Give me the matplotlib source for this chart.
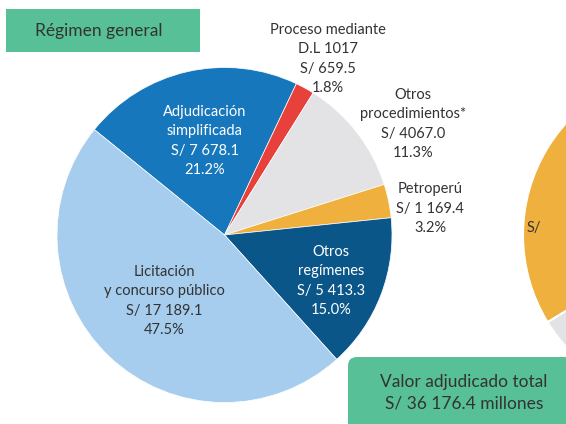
import numpy as np
import matplotlib
matplotlib.use("Agg")
from matplotlib import pyplot as plt
from matplotlib.patches import FancyBboxPatch, Rectangle

# Adjudicated value by procedure (S/ millions), clockwise from upper left
labels = ["Adjudicación\nsimplificada", "Proceso mediante\nD.L 1017", "Otros\nprocedimientos*",
          "Petroperú", "Otros\nregímenes", "Licitación\ny concurso público"]
amounts = [7678.1, 659.5, 4067.0, 1169.4, 5413.3, 17189.1]
amount_text = ["S/ 7 678.1", "S/ 659.5", "S/ 4067.0", "S/ 1 169.4", "S/ 5 413.3", "S/ 17 189.1"]
shares = [21.2, 1.8, 11.3, 3.2, 15.0, 47.5]
colors = ["#1777bc", "#e8403a", "#e3e3e5", "#efb03e", "#0a5689", "#a6cdee"]

# partially visible second pie at the right edge
right_values = [70.0, 30.0]
right_colors = ["#efb03e", "#e3e3e5"]

total_text = "Valor adjudicado total\nS/ 36 176.4 millones"

plt.rcParams['font.family'] = ['Lato', 'DejaVu Sans']

W, H = 566, 424
fig = plt.figure(figsize=(W / 100, H / 100), dpi=100)
ax = fig.add_axes([0, 0, 1, 1])
ax.set_xlim(0, W)
ax.set_ylim(0, H)
ax.set_aspect("equal")
ax.axis("off")

# second pie (mostly off the figure)
ax.pie(right_values, colors=right_colors, center=(690, H - 235), radius=167,
       startangle=211.5 - 360 * 0.70, counterclock=True,
       wedgeprops=dict(edgecolor="white", linewidth=1.5))
ax.text(527, H - 228, "S/", fontsize=10.5, color="#333333", ha="left", va="center")

# main pie
ax.pie(amounts, colors=colors, center=(224.5, H - 235), radius=167.5,
       startangle=141, counterclock=False,
       explode=[0, 0, 0, 0.015, 0, 0],
       wedgeprops=dict(edgecolor="white", linewidth=0.5))
ax.set_xlim(0, W)
ax.set_ylim(0, H)

label_pos = [(205, 141), (328, 59), (413, 124), (430, 209), (331, 281), (164, 301)]
text_colors = ["white", "#333333", "#333333", "#333333", "white", "#333333"]
for lab, amt, sh, (x, y), c in zip(labels, amount_text, shares, label_pos, text_colors):
    ax.text(x, H - y, f"{lab}\n{amt}\n{sh:.1f}%", fontsize=10.5, color=c,
            ha="center", va="center", linespacing=1.5)

# title box
ax.add_patch(Rectangle((6, H - 52), 194, 43, facecolor="#57c096", edgecolor="none"))
ax.text(99, H - 31, "Régimen general", fontsize=12.5, color="#333333",
        ha="center", va="center")

# total box
ax.add_patch(FancyBboxPatch((348, H - 440), 240, 83,
                            boxstyle="round,pad=0,rounding_size=9",
                            facecolor="#57c096", edgecolor="none"))
ax.text(464, H - 393, total_text, fontsize=12.5, color="#333333",
        ha="center", va="center", linespacing=1.45)

fig.savefig("out.png", dpi=100)
